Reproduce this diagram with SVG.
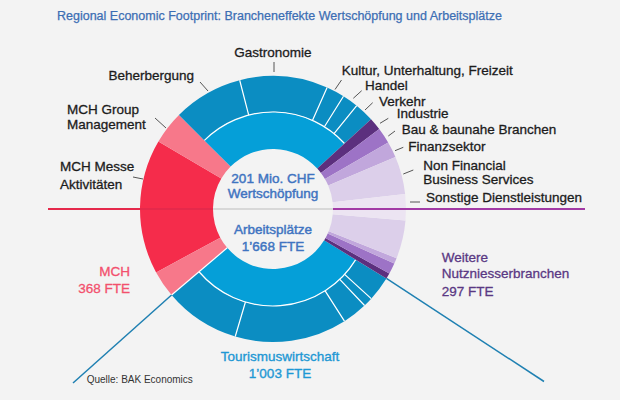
<svg xmlns="http://www.w3.org/2000/svg" width="620" height="400" viewBox="0 0 620 400">
<style>
text{font-family:"Liberation Sans",Arial,sans-serif;font-size:13.5px}
.lbl{fill:#1c1c1c;stroke:#1c1c1c;stroke-width:0.3}
.ctr{fill:#3f74c1;stroke:#3f74c1;stroke-width:0.45;text-anchor:middle}
.mch{fill:#f2506d;stroke:#f2506d;stroke-width:0.3}
.tour{fill:#1e98d4;stroke:#1e98d4;stroke-width:0.35;text-anchor:middle}
.wei{fill:#5a3883;stroke:#5a3883;stroke-width:0.3}
.red{fill:#f52c4b}.pink{fill:#f7788a}
.tin{fill:#059fd8}.tout{fill:#0b8dc2}
.ind{fill:#5c2f7e}.bau{fill:#9d73c6}.fin{fill:#c1a7dc}.nfbs{fill:#dccfea}.son{fill:#ece4f2}
.sep{stroke:#ffffff;stroke-width:1.2;fill:none}
.lead{stroke:#555;stroke-width:1;fill:none}
.conn{stroke:#1f80b2;stroke-width:1.5;fill:none}
</style>
<rect width="620" height="400" fill="#f3f3f3"/>
<text x="57" y="20" style="font-size:12.5px;fill:#3c6eb4;stroke:#3c6eb4;stroke-width:0.25">Regional Economic Footprint: Brancheneffekte Wertschöpfung und Arbeitsplätze</text>

<g id="mch-messe"><path class="red" d="M158.40,141.50 A133,133 0 0 0 156.12,272.46 L220.27,237.63 A60,60 0 0 1 221.30,178.55 Z"/></g>
<g id="mch-group">
<path class="pink" d="M178.95,114.95 A133,133 0 0 0 158.40,141.50 L221.30,178.55 A60,60 0 0 1 230.57,166.57 Z"/>
<path class="pink" d="M156.12,272.46 A133,133 0 0 0 171.56,295.02 L227.24,247.81 A60,60 0 0 1 220.27,237.63 Z"/>
</g>
<g id="tourismus">
<path class="tin" d="M204.41,140.41 A97,97 0 0 1 344.52,143.47 L317.24,168.46 A60,60 0 0 0 230.57,166.57 Z"/>
<path class="tin" d="M199.02,271.74 A97,97 0 0 0 355.71,259.68 L324.16,240.35 A60,60 0 0 1 227.24,247.81 Z"/>
</g>
<g id="beherbergung">
<path class="tout" d="M178.95,114.95 A133,133 0 0 1 239.70,80.24 L248.71,115.09 A97,97 0 0 0 204.41,140.41 Z"/>
<path class="tout" d="M171.56,295.02 A133,133 0 0 0 235.23,336.52 L245.45,302.01 A97,97 0 0 1 199.02,271.74 Z"/>
</g>
<g id="gastronomie">
<path class="tout" d="M239.70,80.24 A133,133 0 0 1 327.10,87.50 L312.45,120.39 A97,97 0 0 0 248.71,115.09 Z"/>
<path class="tout" d="M235.23,336.52 A133,133 0 0 0 344.46,321.17 L325.12,290.81 A97,97 0 0 1 245.45,302.01 Z"/>
</g>
<g id="kultur">
<path class="tout" d="M327.10,87.50 A133,133 0 0 1 343.48,96.21 L324.40,126.74 A97,97 0 0 0 312.45,120.39 Z"/>
<path class="tout" d="M344.46,321.17 A133,133 0 0 0 364.55,305.47 L339.77,279.36 A97,97 0 0 1 325.12,290.81 Z"/>
</g>
<g id="handel">
<path class="tout" d="M343.48,96.21 A133,133 0 0 1 356.70,105.64 L334.04,133.62 A97,97 0 0 0 324.40,126.74 Z"/>
<path class="tout" d="M364.55,305.47 A133,133 0 0 0 371.22,298.68 L344.63,274.41 A97,97 0 0 1 339.77,279.36 Z"/>
</g>
<g id="verkehr">
<path class="tout" d="M356.70,105.64 A133,133 0 0 1 371.06,119.15 L344.52,143.47 A97,97 0 0 0 334.04,133.62 Z"/>
<path class="tout" d="M371.22,298.68 A133,133 0 0 0 386.40,278.49 L355.71,259.68 A97,97 0 0 1 344.63,274.41 Z"/>
</g>
<g id="tourismus-separators">
<path class="sep" d="M204.41,140.41 A97,97 0 0 1 344.52,143.47"/>
<path class="sep" d="M199.02,271.74 A97,97 0 0 0 355.71,259.68"/>
<path class="sep" d="M239.70,80.24 L248.71,115.09 M327.10,87.50 L312.45,120.39 M343.48,96.21 L324.40,126.74 M356.70,105.64 L334.04,133.62"/>
<path class="sep" d="M235.23,336.52 L245.45,302.01 M344.46,321.17 L325.12,290.81 M364.55,305.47 L339.77,279.36 M371.22,298.68 L344.63,274.41"/>
<path class="sep" d="M171.56,295.02 L227.24,247.81"/>
</g>
<g id="industrie">
<path class="ind" d="M371.06,119.15 A133,133 0 0 1 379.22,128.96 L320.92,172.89 A60,60 0 0 0 317.24,168.46 Z"/>
<path class="ind" d="M389.32,273.48 A133,133 0 0 1 386.40,278.49 L324.16,240.35 A60,60 0 0 0 325.48,238.09 Z"/>
</g>
<g id="bau">
<path class="bau" d="M379.22,128.96 A133,133 0 0 1 388.18,142.50 L324.96,179.00 A60,60 0 0 0 320.92,172.89 Z"/>
<path class="bau" d="M394.31,263.52 A133,133 0 0 1 389.32,273.48 L325.48,238.09 A60,60 0 0 0 327.73,233.60 Z"/>
</g>
<g id="finanz">
<path class="fin" d="M388.18,142.50 A133,133 0 0 1 395.43,157.03 L328.23,185.56 A60,60 0 0 0 324.96,179.00 Z"/>
<path class="fin" d="M396.57,258.18 A133,133 0 0 1 394.31,263.52 L327.73,233.60 A60,60 0 0 0 328.75,231.19 Z"/>
</g>
<g id="nfbs">
<path class="nfbs" d="M395.43,157.03 A133,133 0 0 1 405.14,193.94 L332.61,202.21 A60,60 0 0 0 328.23,185.56 Z"/>
<path class="nfbs" d="M405.49,220.59 A133,133 0 0 1 396.57,258.18 L328.75,231.19 A60,60 0 0 0 332.77,214.23 Z"/>
</g>
<g id="sonstige">
<path class="son" d="M405.14,193.94 A133,133 0 0 1 405.49,220.59 L332.77,214.23 A60,60 0 0 0 332.61,202.21 Z"/>
</g>

<g id="connectors">
<line x1="48" y1="209" x2="213" y2="209" stroke="#e5294b" stroke-width="2"/>
<line x1="213" y1="209" x2="333" y2="209" stroke="#cfcfcf" stroke-width="1.5"/>
<line x1="333" y1="209" x2="585" y2="209" stroke="#a23aa5" stroke-width="2"/>
<line class="conn" x1="171.56" y1="295.02" x2="73" y2="383"/>
<line class="conn" x1="386.40" y1="278.49" x2="544" y2="381.5"/>
<path class="lead" d="M274,62 L274,72 M200,82 L208,91 M155,118 L166,128 M133,177 L143,179 M341.5,80 L335,89.5 M361.7,90.7 L353.3,98.3 M372.7,102.7 L365,110 M388.3,118.3 L380,123.3 M395,131 L388.3,136 M403.3,147.3 L395,150.7 M413.3,170 L403.3,174 M410,202 L420,202"/>
</g>

<g id="labels">
<text class="lbl" x="273" y="57" text-anchor="middle">Gastronomie</text>
<text class="lbl" x="194" y="79.5" text-anchor="end">Beherbergung</text>
<text class="lbl" x="67" y="114.3">MCH Group</text>
<text class="lbl" x="67" y="129.3">Management</text>
<text class="lbl" x="60" y="170.7">MCH Messe</text>
<text class="lbl" x="60" y="188.7">Aktivitäten</text>
<text class="lbl" x="341.7" y="75">Kultur, Unterhaltung, Freizeit</text>
<text class="lbl" x="365" y="90">Handel</text>
<text class="lbl" x="379" y="105.7">Verkehr</text>
<text class="lbl" x="396.7" y="118.3">Industrie</text>
<text class="lbl" x="401.7" y="134.3">Bau &amp; baunahe Branchen</text>
<text class="lbl" x="408.3" y="150.7">Finanzsektor</text>
<text class="lbl" x="423.3" y="170">Non Financial</text>
<text class="lbl" x="423.3" y="184.3">Business Services</text>
<text class="lbl" x="426" y="202.3">Sonstige Dienstleistungen</text>
<text class="ctr" x="273" y="183.3">201 Mio. CHF</text>
<text class="ctr" x="273" y="198.3">Wertschöpfung</text>
<text class="ctr" x="273" y="233.8">Arbeitsplätze</text>
<text class="ctr" x="273" y="251.3">1’668 FTE</text>
<text class="mch" x="130" y="276" text-anchor="end">MCH</text>
<text class="mch" x="130" y="292.7" text-anchor="end">368 FTE</text>
<text class="tour" x="280" y="360.7">Tourismuswirtschaft</text>
<text class="tour" x="280" y="377.7">1’003 FTE</text>
<text class="wei" x="441.7" y="261.7">Weitere</text>
<text class="wei" x="441.7" y="278.3">Nutzniesserbranchen</text>
<text class="wei" x="441.7" y="295.7">297 FTE</text>
<text x="86.7" y="382.7" style="font-size:10px;fill:#333">Quelle: BAK Economics</text>
</g>
</svg>
